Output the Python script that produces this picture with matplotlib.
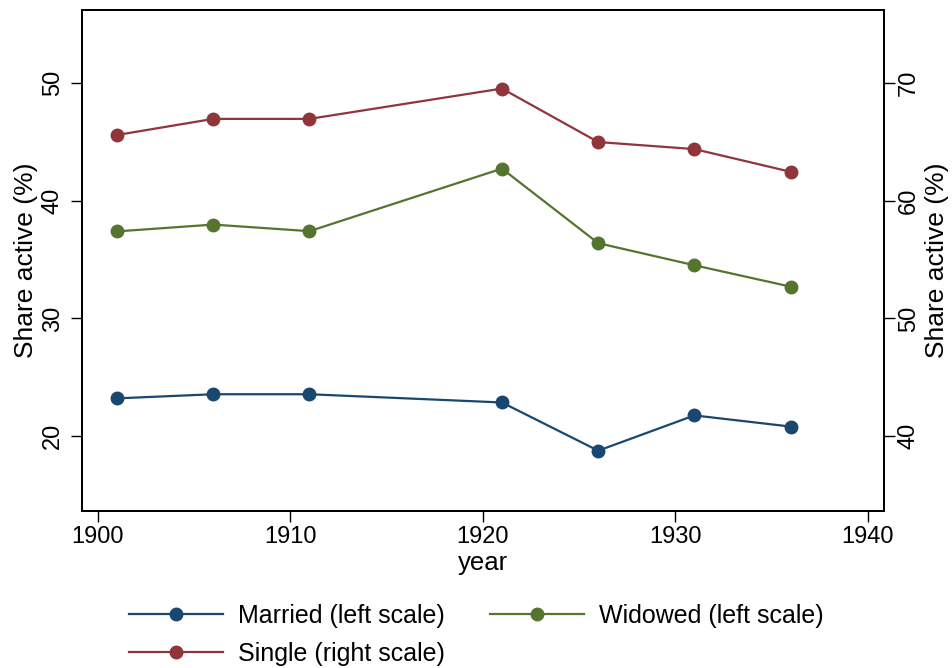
import matplotlib
matplotlib.use("Agg")
import matplotlib.pyplot as plt

plt.rcParams['font.family'] = ['Liberation Sans', 'DejaVu Sans']

# census years
years = [1901, 1906, 1911, 1921, 1926, 1931, 1936]

# share active (%), left scale
married = [23.2, 23.55, 23.55, 22.85, 18.75, 21.75, 20.8]
widowed = [37.4, 37.98, 37.42, 42.74, 36.4, 34.52, 32.7]
# share active (%), right scale
single = [65.6, 66.97, 66.97, 69.55, 65.0, 64.4, 62.47]

x_ticks = [1900, 1910, 1920, 1930, 1940]
left_ticks = [20, 30, 40, 50]
right_ticks = [40, 50, 60, 70]

NAVY = "#1a476f"
GREEN = "#55752f"
MAROON = "#90353b"

fig = plt.figure(figsize=(9.52, 6.68), dpi=100)
# plot frame in pixels: x 82..884, y 10..511
ax = fig.add_axes([82 / 952, 1 - 511 / 668, 802 / 952, 501 / 668])
ax2 = ax.twinx()

ln_m, = ax.plot(years, married, color=NAVY, lw=1.6, marker='o', ms=9,
                label="Married (left scale)")
ln_w, = ax.plot(years, widowed, color=GREEN, lw=1.6, marker='o', ms=9,
                label="Widowed (left scale)")
ln_s, = ax2.plot(years, single, color=MAROON, lw=1.6, marker='o', ms=9,
                 label="Single (right scale)")

lo, hi = 13.62, 56.23
ax.set_ylim(lo, hi)
ax2.set_ylim(lo + 20, hi + 20)  # right scale is the left one shifted by 20
ax.set_xlim(1899.18, 1940.85)

ax.set_xticks(x_ticks)
ax.set_yticks(left_ticks)
ax2.set_yticks(right_ticks)

for a in (ax, ax2):
    a.tick_params(axis='both', direction='out', length=8, width=1.0,
                  labelsize=17, color='black')
    for sp in a.spines.values():
        sp.set_linewidth(1.4)
ax.tick_params(axis='y', labelrotation=90, pad=5)
ax2.tick_params(axis='y', labelrotation=90, pad=2)
for lbl in ax.get_yticklabels() + ax2.get_yticklabels():
    lbl.set_verticalalignment('center')
ax.tick_params(axis='x', pad=3)

ax.set_xlabel("year", fontsize=18.5)
ax.xaxis.set_label_coords(0.5, -0.08)
ax.set_ylabel("Share active (%)", fontsize=19)
ax.yaxis.set_label_coords(-0.0549, 0.5)
ax2.set_ylabel("Share active (%)", fontsize=19)
ax2.yaxis.set_label_coords(1.051, 0.5)

# order so the column-wise fill gives Married | Widowed on the first row
handles = [ln_m, ln_s, ln_w]
fig.legend(handles, [h.get_label() for h in handles], ncol=2,
           loc='upper left', bbox_to_anchor=(129 / 952, 1 - 604 / 668),
           frameon=False, fontsize=18, handlelength=3.76, handletextpad=0.6,
           columnspacing=1.8, labelspacing=0.55, borderaxespad=0, borderpad=0)

fig.savefig("out.png", dpi=100, facecolor='white')
